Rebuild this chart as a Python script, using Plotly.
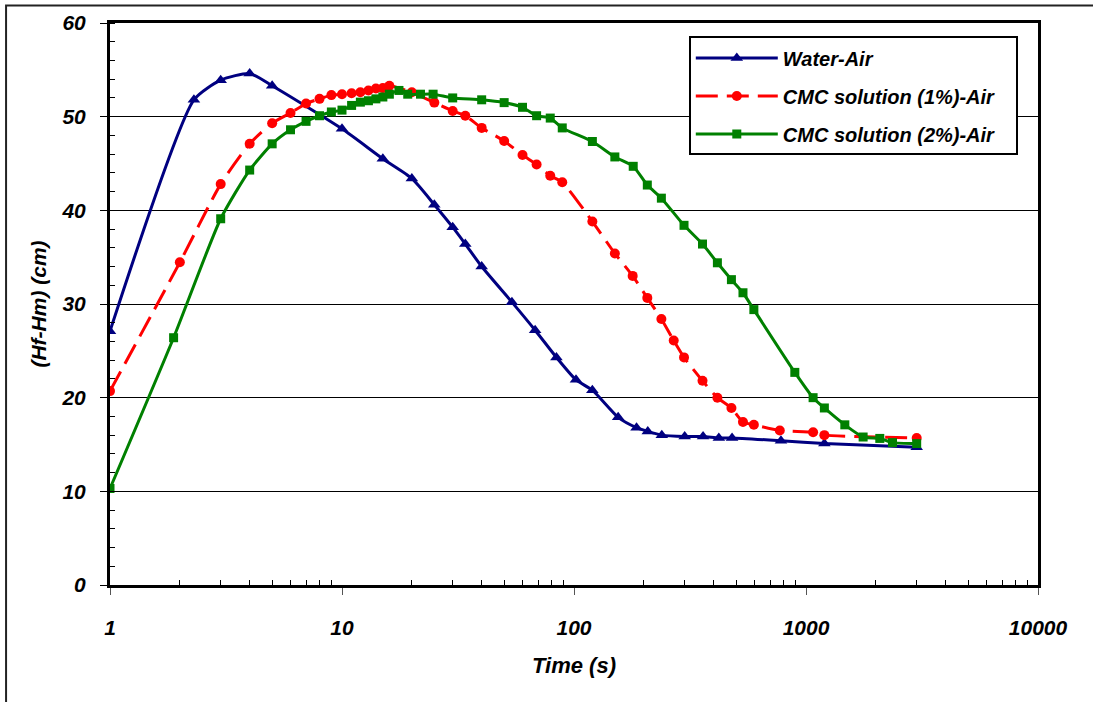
import plotly.graph_objects as go

# ---- data ----
water_t = [1, 2.3, 3, 4, 5, 10, 15, 20, 25, 30, 34, 40, 54, 68, 84, 102, 120, 155,
           186, 208, 239, 300, 360, 421, 480, 780, 1200, 3000]
water_h = [27.1, 51.8, 53.9, 54.6, 53.3, 48.7, 45.5, 43.4, 40.6, 38.2, 36.4, 34.0,
           30.2, 27.2, 24.3, 21.9, 20.8, 17.9, 16.8, 16.4, 16.0, 15.85, 15.85, 15.7,
           15.7, 15.4, 15.1, 14.7]

cmc1_t = [1, 2, 3, 4, 5, 6, 7, 8, 9, 10, 11, 12, 13, 14, 15, 16, 20, 25, 30, 34, 40,
          50, 60, 69, 79, 89, 120, 150, 179, 207, 238, 269, 298, 358, 415, 477, 535,
          596, 771, 1073, 1200, 3000]
cmc1_h = [20.7, 34.45, 42.8, 47.1, 49.3, 50.4, 51.4, 51.9, 52.3, 52.4, 52.5, 52.6,
          52.8, 53.0, 53.05, 53.3, 52.6, 51.5, 50.6, 50.1, 48.8, 47.4, 45.9, 44.9,
          43.7, 43.0, 38.8, 35.4, 33.0, 30.65, 28.4, 26.1, 24.3, 21.8, 20.0, 18.9,
          17.4, 17.1, 16.5, 16.3, 16.0, 15.7]

cmc2_t = [1, 1.88, 3, 4, 5, 6, 7, 8, 9, 10, 11, 12, 13, 14, 15, 16, 17.6, 19.2, 21.8,
          24.7, 30, 40, 50, 60, 69, 79, 89, 120, 150, 180, 207, 238, 298, 358, 415,
          477, 535, 596, 895, 1073, 1200, 1470, 1763, 2080, 2360, 3000]
cmc2_h = [10.3, 26.4, 39.1, 44.3, 47.1, 48.6, 49.5, 50.1, 50.5, 50.7, 51.2, 51.55,
          51.7, 51.9, 52.1, 52.4, 52.8, 52.4, 52.4, 52.4, 52.0, 51.8, 51.5, 51.0,
          50.1, 49.85, 48.8, 47.35, 45.7, 44.7, 42.7, 41.3, 38.4, 36.4, 34.4, 32.6,
          31.2, 29.4, 22.7, 20.0, 18.9, 17.1, 15.8, 15.65, 15.2, 15.1]

series_names = ["Water-Air", "CMC solution (1%)-Air", "CMC solution (2%)-Air"]

x_tickvals = [1, 10, 100, 1000, 10000]
x_ticktext = ["1", "10", "100", "1000", "10000"]
x_minor = [m * d for d in (1, 10, 100, 1000) for m in range(2, 10)]

FONT = "Liberation Sans, Arial, sans-serif"
PAD = "\u00a0" * 3  # right padding inside legend box

fig = go.Figure()
fig.add_trace(go.Scatter(
    x=water_t, y=water_h, name=series_names[0] + PAD, mode="lines+markers",
    legendgroup="a",
    line=dict(color="#000080", width=3, shape="spline", smoothing=0.6),
    marker=dict(symbol="triangle-up", size=11, color="#000080")))
fig.add_trace(go.Scatter(
    x=cmc1_t, y=cmc1_h, name=series_names[1] + PAD, mode="lines+markers",
    legendgroup="b",
    line=dict(color="#FF0000", width=3, dash="22px,9px", shape="spline", smoothing=0.6),
    marker=dict(symbol="circle", size=10, color="#FF0000")))
fig.add_trace(go.Scatter(
    x=cmc2_t, y=cmc2_h, name=series_names[2] + PAD, mode="lines+markers",
    legendgroup="c",
    line=dict(color="#008000", width=3, shape="spline", smoothing=0.6),
    marker=dict(symbol="square", size=9, color="#008000")))

tickfont = dict(family=FONT, size=21, color="black", weight="bold", style="italic")

fig.update_layout(
    width=1093, height=702,
    margin=dict(l=110, r=55, t=23, b=117),
    paper_bgcolor="white", plot_bgcolor="white",
    showlegend=True,
    legend=dict(
        x=0.6237, y=0.976, xanchor="left", yanchor="top",
        bgcolor="white", bordercolor="black", borderwidth=2,
        font=dict(family=FONT, size=20, color="black", weight="bold", style="italic"),
        tracegroupgap=9, itemwidth=82),
    xaxis=dict(
        type="log", range=[0, 4],
        tickmode="array", tickvals=x_tickvals, ticktext=x_ticktext,
        ticks="outside", ticklen=7, tickcolor="#555", tickwidth=1,
        tickfont=tickfont, ticklabelstandoff=15,
        showgrid=False, zeroline=False,
        showline=True, linecolor="black", linewidth=3, mirror=True,
        minor=dict(tickmode="array", tickvals=x_minor, ticks="inside", ticklen=5,
                   tickcolor="black", tickwidth=1, showgrid=False),
        title=dict(text="Time (s)", standoff=20,
                   font=dict(family=FONT, size=22, color="black", weight="bold",
                             style="italic")),
    ),
    yaxis=dict(
        range=[0, 60], tickmode="linear", tick0=0, dtick=10,
        ticks="outside", ticklen=7, tickcolor="black", tickwidth=1,
        tickfont=tickfont, ticklabelstandoff=10,
        showgrid=True, gridcolor="black", gridwidth=1, zeroline=False,
        showline=True, linecolor="black", linewidth=3, mirror=True,
        minor=dict(dtick=2, ticks="inside", ticklen=5, tickcolor="black",
                   tickwidth=1, showgrid=False),
        title=dict(text="(Hf-Hm) (cm)", standoff=10,
                   font=dict(family=FONT, size=21, color="black", weight="bold",
                             style="italic")),
    ),
    shapes=[dict(type="rect", xref="paper", yref="paper",
                 x0=-0.112, x1=1.08, y0=-0.25, y1=1.031,
                 line=dict(color="#222", width=2), fillcolor="rgba(0,0,0,0)",
                 layer="below")],
)

fig.write_html("out.html")
